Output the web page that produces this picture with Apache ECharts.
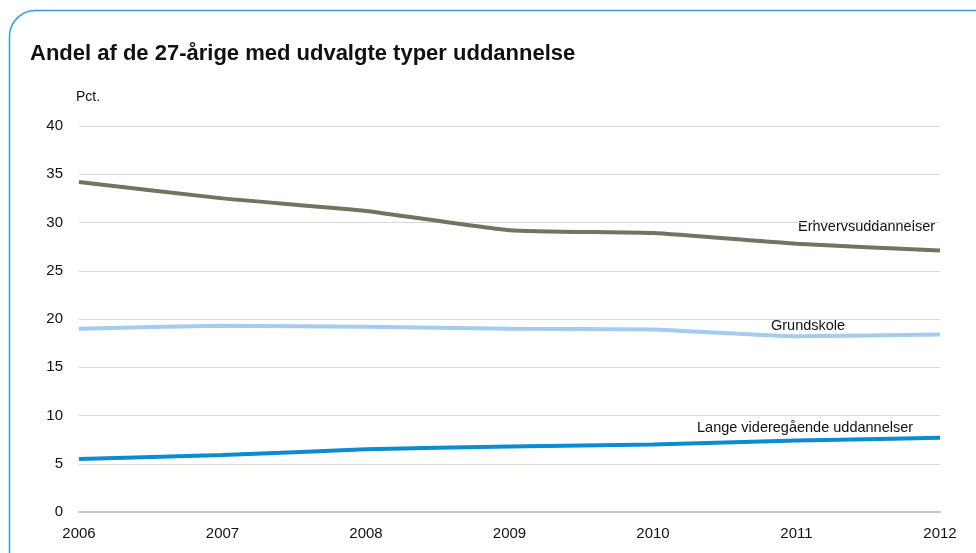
<!DOCTYPE html>
<html>
<head>
<meta charset="utf-8">
<script src="https://cdn.jsdelivr.net/npm/echarts@6/dist/echarts.min.js"></script>
<style>
  html, body { margin: 0; padding: 0; background: #fff; }
  #chart { width: 976px; height: 553px; }
</style>
</head>
<body>
<div id="chart"></div>
<script>
var years = ['2006', '2007', '2008', '2009', '2010', '2011', '2012'];
var erhverv = [34.2, 32.5, 31.2, 29.2, 28.9, 27.8, 27.1];
var grundskole = [19.0, 19.3, 19.2, 19.0, 18.9, 18.2, 18.4];
var lange = [5.5, 5.9, 6.5, 6.8, 7.0, 7.4, 7.7];

var font = '"Liberation Sans", Arial, sans-serif';

var myChart = echarts.init(document.getElementById('chart'));

var option = {
    animation: false,
    textStyle: { fontFamily: font },
    title: {
        text: 'Andel af de 27-årige med udvalgte typer uddannelse',
        left: 25,
        top: 38,
        textStyle: { fontSize: 22, fontWeight: 'bold', color: '#111', fontFamily: font }
    },
    grid: { left: 79, right: 36, top: 126, bottom: 41 },
    xAxis: {
        type: 'category',
        data: years,
        boundaryGap: false,
        axisLine: { lineStyle: { color: '#c8c8bd', width: 2 } },
        axisTick: { show: false },
        axisLabel: { color: '#111', fontSize: 15, margin: 14, fontFamily: font }
    },
    yAxis: {
        type: 'value',
        min: 0,
        max: 40,
        interval: 5,
        name: 'Pct.',
        nameLocation: 'end',
        nameGap: 22,
        nameTextStyle: { color: '#111', fontSize: 14, align: 'left', padding: [0, 0, 0, -3], fontFamily: font },
        axisLine: { show: false },
        axisTick: { show: false },
        axisLabel: { color: '#111', fontSize: 15, margin: 16, fontFamily: font },
        splitLine: { lineStyle: { color: '#d8d8cf', width: 1 } }
    },
    series: [
        {
            name: 'Erhvervsuddannelser',
            type: 'line',
            data: erhverv,
            symbol: 'none',
            smooth: 0.15,
            lineStyle: { color: '#73735f', width: 4 }
        },
        {
            name: 'Grundskole',
            type: 'line',
            data: grundskole,
            symbol: 'none',
            smooth: 0.15,
            lineStyle: { color: '#a5cbee', width: 4 }
        },
        {
            name: 'Lange videregående uddannelser',
            type: 'line',
            data: lange,
            symbol: 'none',
            smooth: 0.15,
            lineStyle: { color: '#0b8bd2', width: 4 }
        }
    ],
    graphic: [
        {
            type: 'rect',
            silent: true,
            shape: { x: 9.5, y: 10.5, width: 1000, height: 600, r: 26 },
            style: { fill: 'none', stroke: '#2d9fe0', lineWidth: 1.5 }
        },
        {
            type: 'text', left: 798, top: 219,
            style: { text: 'Erhvervsuddannelser', fill: '#111', font: '14.5px ' + font }
        },
        {
            type: 'text', left: 771, top: 318,
            style: { text: 'Grundskole', fill: '#111', font: '14.5px ' + font }
        },
        {
            type: 'text', left: 697, top: 420,
            style: { text: 'Lange videregående uddannelser', fill: '#111', font: '14.5px ' + font }
        }
    ]
};

myChart.setOption(option);
</script>
</body>
</html>
